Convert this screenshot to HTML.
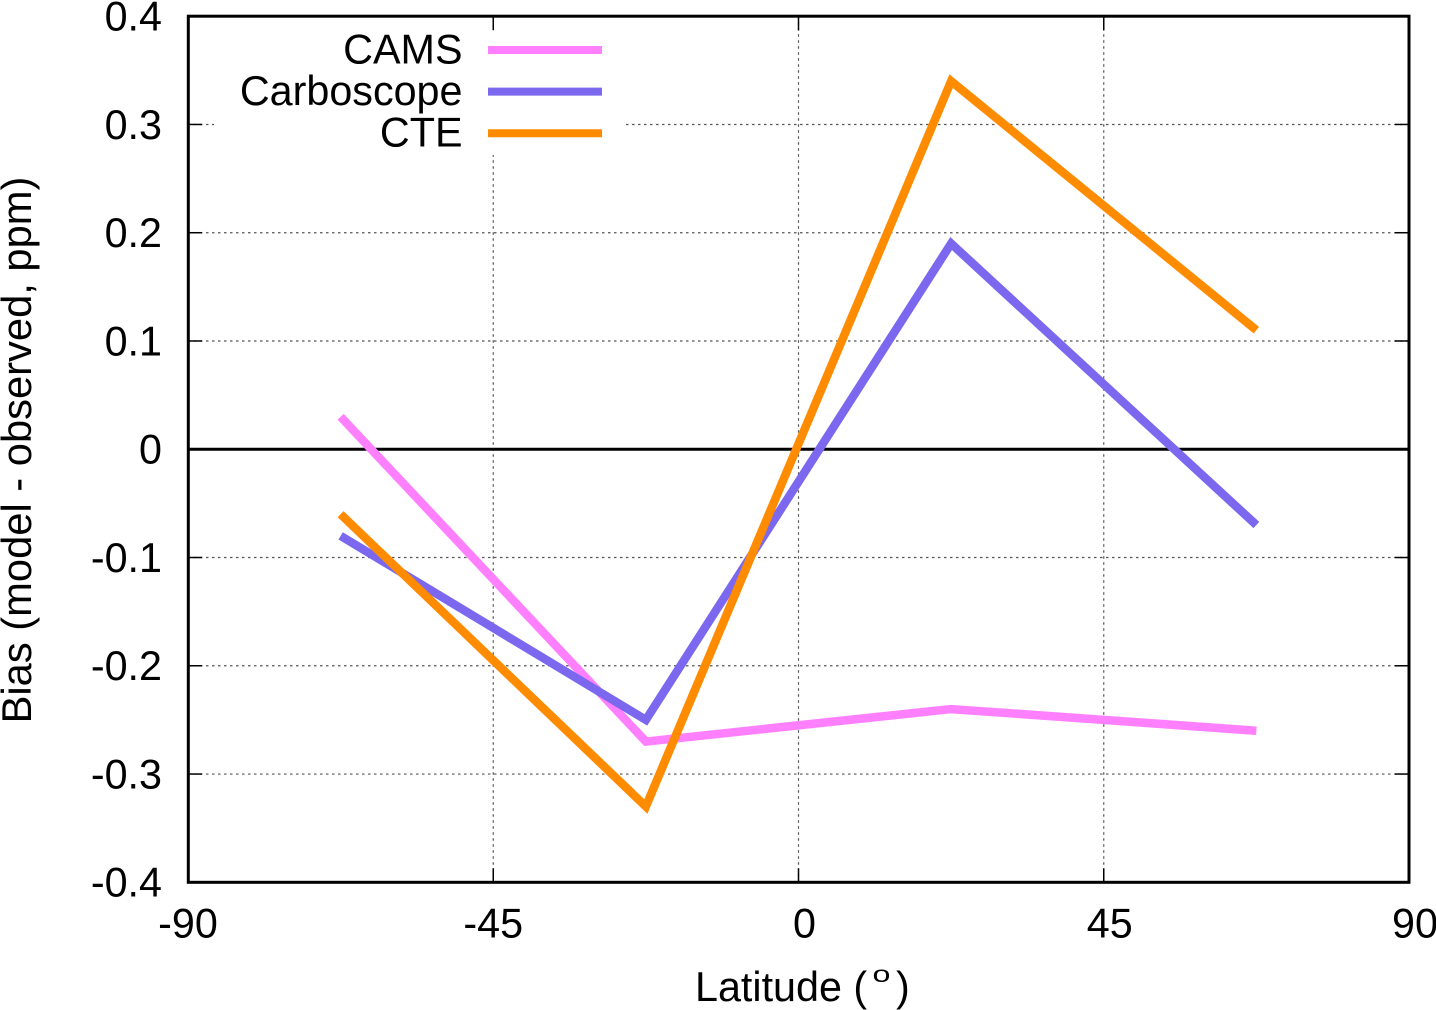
<!DOCTYPE html>
<html lang="en">
<head>
<meta charset="utf-8">
<title>Bias by latitude</title>
<style>
html,body{margin:0;padding:0;background:#fff;}
svg{display:block;}
text{font-family:"Liberation Sans",sans-serif;font-size:41.3px;fill:#000;}
</style>
</head>
<body>
<svg id="chart" xmlns="http://www.w3.org/2000/svg" width="1436" height="1010" viewBox="0 0 1436 1010">
  <rect x="0" y="0" width="1436" height="1010" fill="#fff"/>
  <g id="grid"></g>
  <rect x="214" y="18" width="412" height="137" fill="#fff"/>
  <g id="ticks"></g>
  <line x1="188" y1="449.3" x2="1409" y2="449.3" stroke="#000" stroke-width="3"/>
  <g id="series"></g>
  <rect x="188.3" y="16.2" width="1220.7" height="866.1" fill="none" stroke="#000" stroke-width="3"/>
  <g id="tick-labels"></g>
  <text x="695" y="1001">Latitude (</text>
  <text transform="translate(872.5 982) scale(1.4 1)" style="font-size:23px">o</text>
  <text x="896" y="1001">)</text>
  <text transform="translate(31 450) rotate(-90)" text-anchor="middle" style="font-size:41.7px">Bias (model - observed, ppm)</text>
  <g id="legend"></g>
</svg>
<script>
const latitudes = [-67.5, -22.5, 22.5, 67.5];
const camsValues = [0.03, -0.27, -0.24, -0.26];
const carboscopeValues = [-0.08, -0.25, 0.19, -0.07];
const cteValues = [-0.06, -0.33, 0.34, 0.11];
const seriesNames = ['CAMS', 'Carboscope', 'CTE'];
const seriesColors = ['#ff80ff', '#7b68ee', '#ff8c00'];
const xTicks = [-90, -45, 0, 45, 90];
const yTicks = [-0.4, -0.3, -0.2, -0.1, 0, 0.1, 0.2, 0.3, 0.4];

const NS = 'http://www.w3.org/2000/svg';
const plot = { left: 188, right: 1409, top: 16.2, bottom: 882.3 };
const xScale = v => plot.left + (v + 90) / 180 * (plot.right - plot.left);
const yScale = v => plot.bottom - (v + 0.4) / 0.8 * (plot.bottom - plot.top);
const make = (parent, tag) => parent.appendChild(document.createElementNS(NS, tag));
const setAll = (el, attrs) => { for (const k in attrs) el.setAttribute(k, attrs[k]); return el; };

const gridG = document.getElementById('grid');
const ticksG = document.getElementById('ticks');
const labelsG = document.getElementById('tick-labels');
const seriesG = document.getElementById('series');
const legendG = document.getElementById('legend');

xTicks.forEach(t => {
  const x = xScale(t);
  if (t > -90 && t < 90) {
    const grid = make(gridG, 'line');
    
    
    setAll(grid, { x1: x, y1: plot.top, x2: x, y2: plot.bottom, stroke: '#555', 'stroke-width': 1.2, 'stroke-dasharray': '2.5 3.5' });
    const tickB = make(ticksG, 'line');
    
    
    setAll(tickB, { x1: x, y1: plot.bottom, x2: x, y2: plot.bottom - 14, stroke: '#000', 'stroke-width': 1.5 });
    const tickT = make(ticksG, 'line');
    
    
    setAll(tickT, { x1: x, y1: plot.top, x2: x, y2: plot.top + 14, stroke: '#000', 'stroke-width': 1.5 });
  }
  const label = make(labelsG, 'text');
  
  
  const shift = t >= 0 ? 6 : 0;
  setAll(label, { x: x + shift, y: 937.5, 'text-anchor': 'middle' });
  label.textContent = String(t);
});

yTicks.forEach(t => {
  const y = yScale(t);
  if (t > -0.4 && t < 0.4 && t !== 0) {
    const grid = make(gridG, 'line');
    
    
    setAll(grid, { x1: plot.left, y1: y, x2: plot.right, y2: y, stroke: '#555', 'stroke-width': 1.2, 'stroke-dasharray': '2.5 3.5' });
    const tickL = make(ticksG, 'line');
    
    
    setAll(tickL, { x1: plot.left, y1: y, x2: plot.left + 14, y2: y, stroke: '#000', 'stroke-width': 1.5 });
    const tickR = make(ticksG, 'line');
    
    
    setAll(tickR, { x1: plot.right, y1: y, x2: plot.right - 14, y2: y, stroke: '#000', 'stroke-width': 1.5 });
  }
  const label = make(labelsG, 'text');
  
  
  setAll(label, { x: 162, y: y + 14.3, 'text-anchor': 'end' });
  label.textContent = t === 0 ? '0' : t.toFixed(1);
});

[camsValues, carboscopeValues, cteValues].forEach((values, i) => {
  const line = make(seriesG, 'polyline');
  
  
  const pts = values.map((v, j) => xScale(latitudes[j]) + ',' + yScale(v)).join(' ');
  setAll(line, { points: pts, fill: 'none', stroke: seriesColors[i], 'stroke-width': 8.5, 'stroke-linejoin': 'miter', 'stroke-linecap': 'butt' });

  const rowY = 50 + i * 41.6;
  const entry = make(legendG, 'text');
  
  
  setAll(entry, { x: 462.5, y: rowY + 13.3, 'text-anchor': 'end' });
  entry.textContent = seriesNames[i];
  const swatch = make(legendG, 'line');
  
  
  setAll(swatch, { x1: 488, y1: rowY, x2: 602, y2: rowY, stroke: seriesColors[i], 'stroke-width': 8 });
});
</script>
</body>
</html>
